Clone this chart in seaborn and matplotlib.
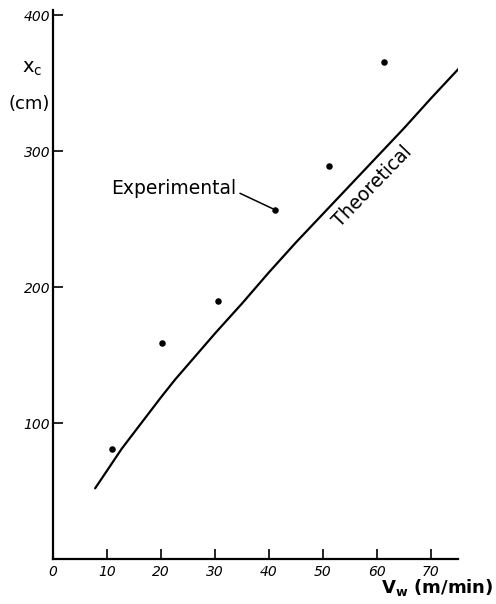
import matplotlib
matplotlib.use("Agg")
import matplotlib.pyplot as plt
import seaborn as sns
import pandas as pd

# Theoretical curve
theo_v = [7.8, 10, 12.7, 15, 20, 22.6, 25, 30, 35, 40, 45, 50, 55, 60, 65, 70, 75.4]
theo_x = [52, 65, 81, 93, 119, 132, 143, 166, 188, 211, 233, 254, 275, 296, 317, 339, 362]

# Experimental points
exp_v = [10.9, 20.1, 30.6, 41.1, 51.2, 61.3]
exp_x = [81, 159, 190, 257, 289, 366]

xticks = [0, 10, 20, 30, 40, 50, 60, 70]
xticklabels = ["0", "10", "20", "30", "40", "50", "60", "70"]
yticks = [100, 200, 300, 400]
yticklabels = ["100", "200", "300", "400"]

sns.set_style("ticks")
plt.rcParams["font.family"] = ["DejaVu Sans"]
plt.rcParams["text.color"] = "black"
plt.rcParams["xtick.color"] = "black"
plt.rcParams["ytick.color"] = "black"

theo = pd.DataFrame({"v": theo_v, "x": theo_x})
expd = pd.DataFrame({"v": exp_v, "x": exp_x})

fig = plt.figure(figsize=(4.96, 6.04), dpi=100)
ax = fig.add_axes([53 / 496, 45 / 604, 405 / 496, 549 / 604])

sns.lineplot(data=theo, x="v", y="x", ax=ax, color="black", lw=1.6, sort=False)
sns.scatterplot(data=expd, x="v", y="x", ax=ax, color="black", s=22,
                edgecolor="black", linewidth=0, zorder=5)

ax.set_xlim(0, 75)
ax.set_ylim(0, 404)
ax.set_xlabel("")
ax.set_ylabel("")

for side in ["top", "right"]:
    ax.spines[side].set_visible(False)
for side in ["left", "bottom"]:
    ax.spines[side].set_linewidth(1.6)
    ax.spines[side].set_color("black")

ax.set_xticks(xticks)
ax.set_xticklabels(xticklabels, fontstyle="italic", fontsize=10, color="black")
ax.set_yticks(yticks)
ax.set_yticklabels(yticklabels, fontstyle="italic", fontsize=10, color="black")
ax.tick_params(axis="both", direction="in", length=7, width=1.2, colors="black")
ax.tick_params(axis="x", pad=4)
ax.tick_params(axis="y", pad=2)

# axis labels
fig.text(22 / 496, 1 - 68 / 604, r"x$_\mathregular{c}$", fontsize=14,
         ha="left", va="center", color="black")
fig.text(29 / 496, 1 - 104 / 604, "(cm)", fontsize=13, ha="center", va="center",
         color="black")
fig.text(494 / 496, 1 - 588 / 604, r"V$_\mathregular{w}$ (m/min)", fontsize=13,
         fontweight="bold", ha="right", va="center", color="black")

# annotations
ax.annotate("", xy=(exp_v[3], exp_x[3]),
            xytext=((240 - 53) / 5.4, (559 - 193) / 1.36),
            arrowprops=dict(arrowstyle="-", lw=1.1, color="black",
                            shrinkA=0, shrinkB=2))
ax.text((236 - 53) / 5.4, (559 - 188) / 1.36, "Experimental", fontsize=13.5,
        ha="right", va="center", color="black")
ax.text(59.1, 274, "Theoretical", fontsize=13.5, rotation=46,
        ha="center", va="center", rotation_mode="anchor", color="black")

fig.savefig("out.png", dpi=100)
